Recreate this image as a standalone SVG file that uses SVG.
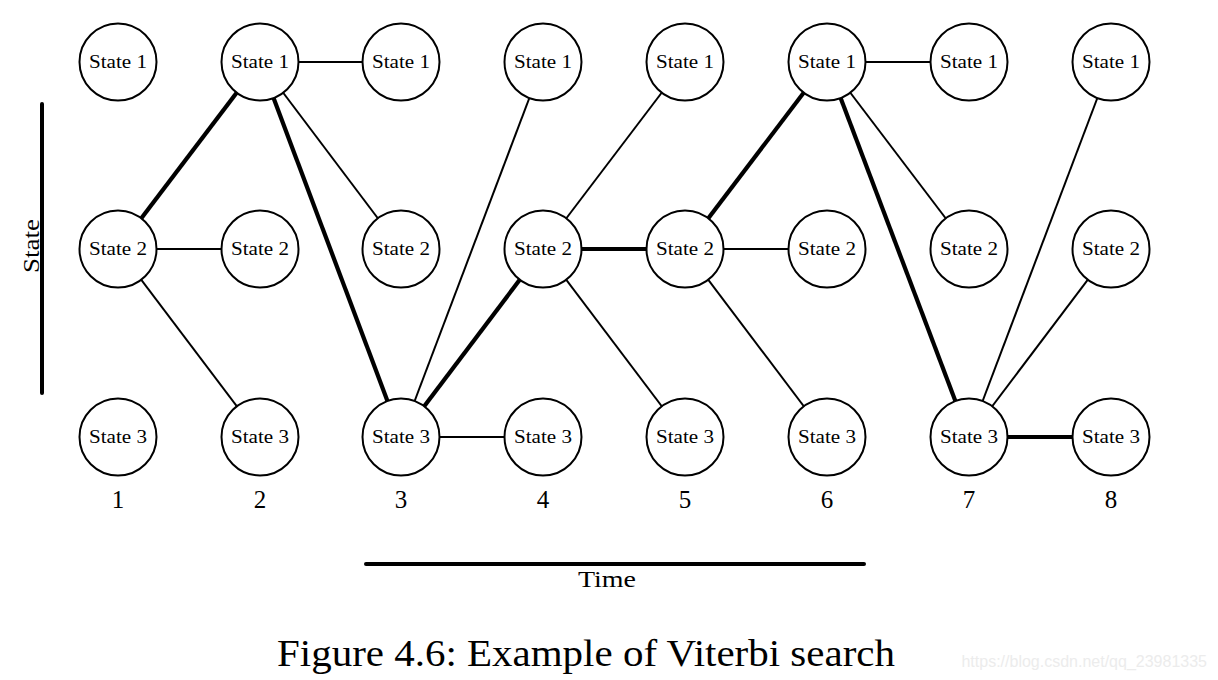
<svg xmlns="http://www.w3.org/2000/svg" width="1218" height="680" viewBox="0 0 1218 680">
<style>
.n circle{fill:#fff;stroke:#000;stroke-width:2}
.n text{font-family:"Liberation Serif",serif;font-size:19px;text-anchor:middle;fill:#000}
.e line{stroke:#000;stroke-width:2}
.e line.b{stroke-width:4.2}
.lab{font-family:"Liberation Serif",serif;fill:#000;text-anchor:middle}
.ax{stroke:#000;stroke-width:4;stroke-linecap:round}
</style>
<rect width="1218" height="680" fill="#fff"/>
<g id="connectors" class="e">
<line class="b" x1="118" y1="249" x2="260" y2="62"/>
<line x1="118" y1="249" x2="260" y2="249"/>
<line x1="118" y1="249" x2="260" y2="437"/>
<line x1="260" y1="62" x2="401" y2="62"/>
<line x1="260" y1="62" x2="401" y2="249"/>
<line class="b" x1="260" y1="62" x2="401" y2="437"/>
<line x1="401" y1="437" x2="543" y2="62"/>
<line class="b" x1="401" y1="437" x2="543" y2="249"/>
<line x1="401" y1="437" x2="543" y2="437"/>
<line x1="543" y1="249" x2="685" y2="62"/>
<line class="b" x1="543" y1="249" x2="685" y2="249"/>
<line x1="543" y1="249" x2="685" y2="437"/>
<line class="b" x1="685" y1="249" x2="827" y2="62"/>
<line x1="685" y1="249" x2="827" y2="249"/>
<line x1="685" y1="249" x2="827" y2="437"/>
<line x1="827" y1="62" x2="969" y2="62"/>
<line x1="827" y1="62" x2="969" y2="249"/>
<line class="b" x1="827" y1="62" x2="969" y2="437"/>
<line x1="969" y1="437" x2="1111" y2="62"/>
<line x1="969" y1="437" x2="1111" y2="249"/>
<line class="b" x1="969" y1="437" x2="1111" y2="437"/>
</g>
<g id="c1s1" class="n"><circle cx="118" cy="62" r="38.5"/><text x="118" y="68" textLength="58" lengthAdjust="spacingAndGlyphs">State 1</text></g>
<g id="c1s2" class="n"><circle cx="118" cy="249" r="38.5"/><text x="118" y="255" textLength="58" lengthAdjust="spacingAndGlyphs">State 2</text></g>
<g id="c1s3" class="n"><circle cx="118" cy="437" r="38.5"/><text x="118" y="443" textLength="58" lengthAdjust="spacingAndGlyphs">State 3</text></g>
<g id="c2s1" class="n"><circle cx="260" cy="62" r="38.5"/><text x="260" y="68" textLength="58" lengthAdjust="spacingAndGlyphs">State 1</text></g>
<g id="c2s2" class="n"><circle cx="260" cy="249" r="38.5"/><text x="260" y="255" textLength="58" lengthAdjust="spacingAndGlyphs">State 2</text></g>
<g id="c2s3" class="n"><circle cx="260" cy="437" r="38.5"/><text x="260" y="443" textLength="58" lengthAdjust="spacingAndGlyphs">State 3</text></g>
<g id="c3s1" class="n"><circle cx="401" cy="62" r="38.5"/><text x="401" y="68" textLength="58" lengthAdjust="spacingAndGlyphs">State 1</text></g>
<g id="c3s2" class="n"><circle cx="401" cy="249" r="38.5"/><text x="401" y="255" textLength="58" lengthAdjust="spacingAndGlyphs">State 2</text></g>
<g id="c3s3" class="n"><circle cx="401" cy="437" r="38.5"/><text x="401" y="443" textLength="58" lengthAdjust="spacingAndGlyphs">State 3</text></g>
<g id="c4s1" class="n"><circle cx="543" cy="62" r="38.5"/><text x="543" y="68" textLength="58" lengthAdjust="spacingAndGlyphs">State 1</text></g>
<g id="c4s2" class="n"><circle cx="543" cy="249" r="38.5"/><text x="543" y="255" textLength="58" lengthAdjust="spacingAndGlyphs">State 2</text></g>
<g id="c4s3" class="n"><circle cx="543" cy="437" r="38.5"/><text x="543" y="443" textLength="58" lengthAdjust="spacingAndGlyphs">State 3</text></g>
<g id="c5s1" class="n"><circle cx="685" cy="62" r="38.5"/><text x="685" y="68" textLength="58" lengthAdjust="spacingAndGlyphs">State 1</text></g>
<g id="c5s2" class="n"><circle cx="685" cy="249" r="38.5"/><text x="685" y="255" textLength="58" lengthAdjust="spacingAndGlyphs">State 2</text></g>
<g id="c5s3" class="n"><circle cx="685" cy="437" r="38.5"/><text x="685" y="443" textLength="58" lengthAdjust="spacingAndGlyphs">State 3</text></g>
<g id="c6s1" class="n"><circle cx="827" cy="62" r="38.5"/><text x="827" y="68" textLength="58" lengthAdjust="spacingAndGlyphs">State 1</text></g>
<g id="c6s2" class="n"><circle cx="827" cy="249" r="38.5"/><text x="827" y="255" textLength="58" lengthAdjust="spacingAndGlyphs">State 2</text></g>
<g id="c6s3" class="n"><circle cx="827" cy="437" r="38.5"/><text x="827" y="443" textLength="58" lengthAdjust="spacingAndGlyphs">State 3</text></g>
<g id="c7s1" class="n"><circle cx="969" cy="62" r="38.5"/><text x="969" y="68" textLength="58" lengthAdjust="spacingAndGlyphs">State 1</text></g>
<g id="c7s2" class="n"><circle cx="969" cy="249" r="38.5"/><text x="969" y="255" textLength="58" lengthAdjust="spacingAndGlyphs">State 2</text></g>
<g id="c7s3" class="n"><circle cx="969" cy="437" r="38.5"/><text x="969" y="443" textLength="58" lengthAdjust="spacingAndGlyphs">State 3</text></g>
<g id="c8s1" class="n"><circle cx="1111" cy="62" r="38.5"/><text x="1111" y="68" textLength="58" lengthAdjust="spacingAndGlyphs">State 1</text></g>
<g id="c8s2" class="n"><circle cx="1111" cy="249" r="38.5"/><text x="1111" y="255" textLength="58" lengthAdjust="spacingAndGlyphs">State 2</text></g>
<g id="c8s3" class="n"><circle cx="1111" cy="437" r="38.5"/><text x="1111" y="443" textLength="58" lengthAdjust="spacingAndGlyphs">State 3</text></g>
<g id="times" class="lab" font-size="25">
<text x="118" y="508">1</text><text x="260" y="508">2</text><text x="401" y="508">3</text><text x="543" y="508">4</text>
<text x="685" y="508">5</text><text x="827" y="508">6</text><text x="969" y="508">7</text><text x="1111" y="508">8</text>
</g>
<g id="state-axis">
<line class="ax" x1="42" y1="104" x2="42" y2="393"/>
<text class="lab" font-size="24" transform="translate(39,246) rotate(-90)" textLength="54" lengthAdjust="spacingAndGlyphs">State</text>
</g>
<g id="time-axis">
<line class="ax" x1="366" y1="564" x2="864" y2="564"/>
<text class="lab" x="607" y="587" font-size="24" textLength="58" lengthAdjust="spacingAndGlyphs">Time</text>
</g>
<text class="lab" x="586" y="666" font-size="37" textLength="618" lengthAdjust="spacingAndGlyphs">Figure 4.6: Example of Viterbi search</text>
<text x="1207" y="667" font-family="Liberation Sans, sans-serif" font-size="16" fill="#ececec" text-anchor="end">https://blog.csdn.net/qq_23981335</text>
</svg>
